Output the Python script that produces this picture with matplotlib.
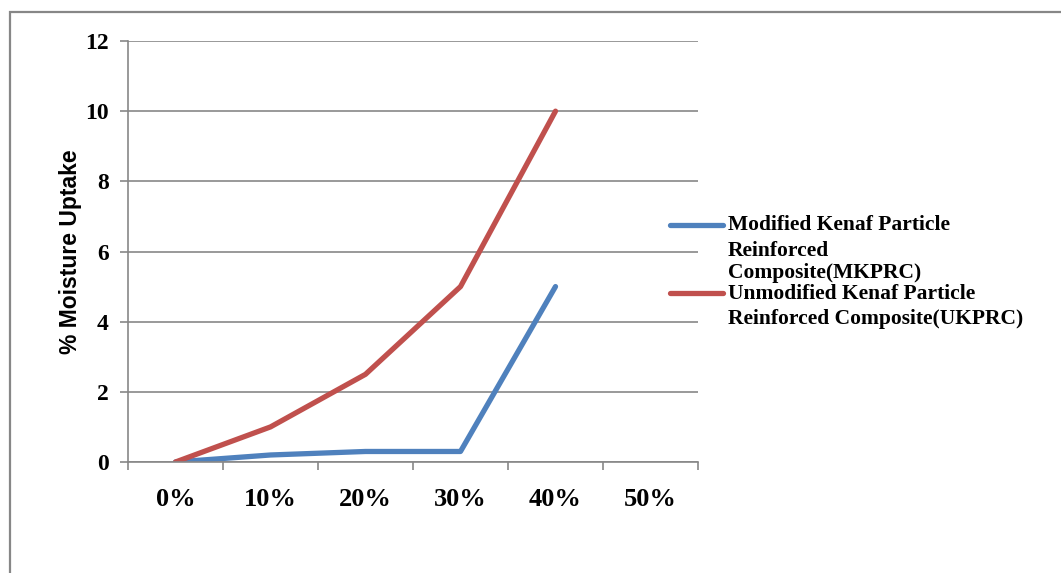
import matplotlib
matplotlib.use("Agg")
import matplotlib.pyplot as plt
from matplotlib.lines import Line2D
from matplotlib.patches import Rectangle

# Fibre loading categories and moisture uptake (%)
categories = ["0%", "10%", "20%", "30%", "40%", "50%"]
mkprc = [0, 0.2, 0.3, 0.3, 5]
ukprc = [0, 1, 2.5, 5, 10]
yticks = [0, 2, 4, 6, 8, 10, 12]

label_mk = ["Modified Kenaf Particle", "Reinforced", "Composite(MKPRC)"]
label_uk = ["Unmodified Kenaf Particle", "Reinforced Composite(UKPRC)"]

BLUE = "#4F81BD"
RED = "#C0504D"
GRID = "#878787"
W, H = 1061, 573

fig = plt.figure(figsize=(W / 100, H / 100), dpi=100)
fig.patch.set_facecolor("white")

# outer chart border
fig.add_artist(Rectangle((10 / W, -0.1), 1.2, (H - 12) / H + 0.1,
                         transform=fig.transFigure, fill=False,
                         edgecolor=GRID, linewidth=1.6))

ax = fig.add_axes([128 / W, (H - 462) / H, 570 / W, 421 / H])

ax.plot(list(range(len(mkprc))), mkprc, color=BLUE, linewidth=3.8, solid_capstyle="round")
ax.plot(list(range(len(ukprc))), ukprc, color=RED, linewidth=3.8, solid_capstyle="round")

ax.set_xlim(-0.5, len(categories) - 0.5)
ax.set_ylim(0, 12)
ax.set_yticks(yticks)
ax.set_yticklabels([str(v) for v in yticks], fontfamily="Liberation Serif",
                   fontweight="bold", fontsize=17)
ax.set_xticks(range(len(categories)))
ax.set_xticklabels(categories, fontfamily="Liberation Serif",
                   fontweight="bold", fontsize=19)
ax.set_xticks([i - 0.5 for i in range(len(categories) + 1)], minor=True)
ax.tick_params(axis="x", which="major", length=0, pad=19)
ax.tick_params(axis="x", which="minor", length=6, color=GRID, width=1.2, direction="out")
ax.tick_params(axis="y", length=6, color=GRID, width=1.2, direction="out", pad=8)

ax.grid(axis="y", color=GRID, linewidth=1.2)
ax.set_axisbelow(True)
for s in ["top", "right"]:
    ax.spines[s].set_visible(False)
for s in ["left", "bottom"]:
    ax.spines[s].set_color(GRID)
    ax.spines[s].set_linewidth(1.2)

ax.set_ylabel("% Moisture Uptake", fontfamily="Liberation Sans", fontweight="bold",
              fontsize=16.5, labelpad=2)

# legend drawn by hand
def fy(y):
    return (H - y) / H

def fx(x):
    return x / W

legend_font = dict(fontfamily="Liberation Serif", fontweight="bold", fontsize=15.5,
                   va="center", ha="left")
fig.add_artist(Line2D([fx(670), fx(723)], [fy(225), fy(225)], color=BLUE,
                      linewidth=3.8, solid_capstyle="round", transform=fig.transFigure))
for txt, y in zip(label_mk, [225, 251, 273]):
    fig.text(fx(728), fy(y), txt, **legend_font)
fig.add_artist(Line2D([fx(670), fx(723)], [fy(293), fy(293)], color=RED,
                      linewidth=3.8, solid_capstyle="round", transform=fig.transFigure))
for txt, y in zip(label_uk, [294, 319]):
    fig.text(fx(728), fy(y), txt, **legend_font)

fig.savefig("out.png", dpi=100)
